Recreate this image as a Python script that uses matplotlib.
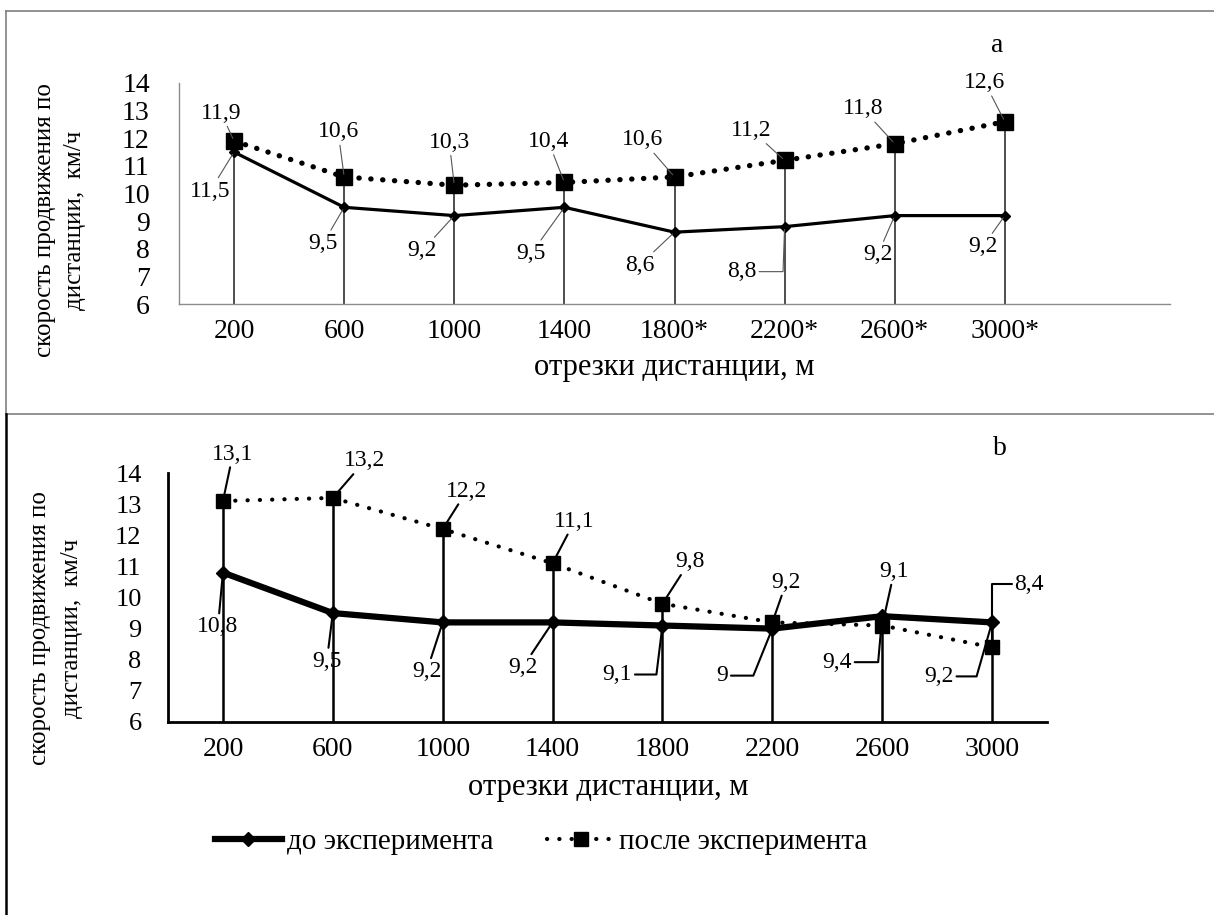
"""Speed over distance segments before / after the experiment, panels a and b."""

import matplotlib

matplotlib.use("Agg")
import matplotlib.pyplot as plt  # noqa: E402
from matplotlib.lines import Line2D  # noqa: E402

plt.rcParams["font.family"] = ["Liberation Serif", "DejaVu Serif"]

# ---- data -------------------------------------------------------------
segments_a = ["200", "600", "1000", "1400", "1800*", "2200*", "2600*", "3000*"]
before_a = [11.5, 9.5, 9.2, 9.5, 8.6, 8.8, 9.2, 9.2]
after_a = [11.9, 10.6, 10.3, 10.4, 10.6, 11.2, 11.8, 12.6]

segments_b = ["200", "600", "1000", "1400", "1800", "2200", "2600", "3000"]
before_b = [10.8, 9.5, 9.2, 9.2, 9.1, 9.0, 9.4, 9.2]
after_b = [13.1, 13.2, 12.2, 11.1, 9.8, 9.2, 9.1, 8.4]

y_ticks = [6, 7, 8, 9, 10, 11, 12, 13, 14]
ylabel = "скорость продвижения по\nдистанции,  км/ч"
xlabel = "отрезки дистанции, м"
legend_labels = ["до эксперимента", "после эксперимента"]

# ---- label placement (pixel offsets from the point, y down) ------------
off_after_a = [(-13, -28), (-6, -45), (-5, -43), (-16, -41), (-32, -37), (-33, -30), (-32, -35), (-20, -39)]
off_before_a = [(-24, 39), (-21, 36), (-32, 35), (-33, 46), (-35, 33), (-43, 45), (-17, 39), (-22, 31)]
bend_after_a = [None] * 8
bend_before_a = [None, None, None, None, None, 88, None, None]

off_after_b = [(10, -47), (32, -37), (24, -38), (22, -42), (27, -42), (14, -40), (12, -54), (37, -63)]
off_before_b = [(-5, 54), (-6, 48), (-16, 49), (-30, 45), (-45, 49), (-50, 47), (-45, 46), (-53, 54)]
bend_after_b = [None, None, None, None, None, None, None, 90]
bend_before_b = [None, None, None, None, 83, 68, 85, 74]


def fmt(v):
    return f"{v:g}".replace(".", ",")


def add_labels(ax, values, offsets, bends, size, color, lw):
    for i, (v, (dx, dy), bend) in enumerate(zip(values, offsets, bends)):
        if bend is None:
            cs = "arc3"
        else:
            cs = f"angle,angleA=0,angleB={bend},rad=0"
        ax.annotate(fmt(v), xy=(i, v), xytext=(dx, -dy), textcoords="offset pixels",
                    ha="center", va="center", fontsize=size, zorder=6,
                    arrowprops=dict(arrowstyle="-", color=color, lw=lw,
                                    shrinkA=0, shrinkB=2, connectionstyle=cs))


def style_axes(ax, labels, xmax, spine_color, spine_lw, xsize, ysize, ypad):
    ax.set_xlim(-0.5, xmax)
    ax.set_ylim(6, 14)
    ax.set_yticks(y_ticks)
    ax.set_xticks(range(len(labels)))
    ax.set_xticklabels(labels)
    for s in ("top", "right"):
        ax.spines[s].set_visible(False)
    for s in ("left", "bottom"):
        ax.spines[s].set_color(spine_color)
        ax.spines[s].set_linewidth(spine_lw)
    ax.tick_params(axis="x", length=0, pad=11, labelsize=xsize)
    ax.tick_params(axis="y", length=0, pad=ypad, labelsize=ysize)
    ax.patch.set_visible(False)


fig = plt.figure(figsize=(12.14, 9.15), dpi=100)

# ---- panel a ----------------------------------------------------------
ax = fig.add_axes([179 / 1214, 1 - 304 / 915, 991 / 1214, 221 / 915])
xs = range(len(segments_a))
ax.vlines(xs, 6, [max(a, b) for a, b in zip(before_a, after_a)], color="#303030", lw=1.2, zorder=1)
ax.plot(xs, after_a, color="black", lw=3.8, linestyle=(0, (0.05, 2.2)), dash_capstyle="round",
        marker="s", ms=11, zorder=3)
ax.plot(xs, before_a, color="black", lw=2.3, marker="D", ms=5.5, zorder=4)
style_axes(ax, segments_a, 8.5, "#8c8c8c", 1.0, 20, 20, 21)
add_labels(ax, after_a, off_after_a, bend_after_a, 17, "#555555", 0.8)
add_labels(ax, before_a, off_before_a, bend_before_a, 17, "#555555", 0.8)

fig.text(60 / 1214, 1 - 220 / 915, ylabel, rotation=90, ha="center", va="center",
         fontsize=18, linespacing=1.5)
fig.text(674 / 1214, 1 - 368 / 915, xlabel, ha="center", va="center", fontsize=22)
fig.text(997 / 1214, 1 - 45 / 915, "a", ha="center", va="center", fontsize=20)

# ---- panel b ----------------------------------------------------------
bx = fig.add_axes([168 / 1214, 1 - 722 / 915, 879 / 1214, 249 / 915])
xs = range(len(segments_b))
bx.vlines(xs, 6, [max(a, b) for a, b in zip(before_b, after_b)], color="black", lw=1.8, zorder=1)
h_after, = bx.plot(xs, after_b, color="black", lw=3.0, linestyle=(0, (0.05, 2.9)),
                   dash_capstyle="round", marker="s", ms=9.5, zorder=3)
h_before, = bx.plot(xs, before_b, color="black", lw=4.5, marker="D", ms=7, zorder=4)
style_axes(bx, segments_b, 7.5, "black", 2.0, 20, 19, 19)
add_labels(bx, after_b, off_after_b, bend_after_b, 17, "black", 1.5)
add_labels(bx, before_b, off_before_b, bend_before_b, 17, "black", 1.5)

fig.text(56 / 1214, 1 - 628 / 915, ylabel, rotation=90, ha="center", va="center",
         fontsize=18, linespacing=1.6)
fig.text(608 / 1214, 1 - 788 / 915, xlabel, ha="center", va="center", fontsize=22)
fig.text(1000 / 1214, 1 - 448 / 915, "b", ha="center", va="center", fontsize=20)

fig.legend([h_before, h_after], legend_labels, loc="center", ncol=2,
           bbox_to_anchor=(541 / 1214, 1 - 842 / 915), frameon=False, fontsize=21,
           handlelength=2.3, handletextpad=0.17, columnspacing=1.85, numpoints=1)

# ---- frames around the panels ---------------------------------------------
x0 = 6 / 1214
y_top, y_mid = 1 - 11 / 915, 1 - 414 / 915
for xd, yd, c, w in [((x0, 1), (y_top, y_top), "#7f7f7f", 1.2),
                     ((x0, x0), (y_top, y_mid), "#7f7f7f", 1.2),
                     ((x0, 1), (y_mid, y_mid), "#7f7f7f", 1.2),
                     ((x0, x0), (y_mid, 0), "black", 1.8)]:
    fig.add_artist(Line2D(xd, yd, transform=fig.transFigure, color=c, lw=w))

fig.savefig("out.png", dpi=100)
plt.close(fig)
